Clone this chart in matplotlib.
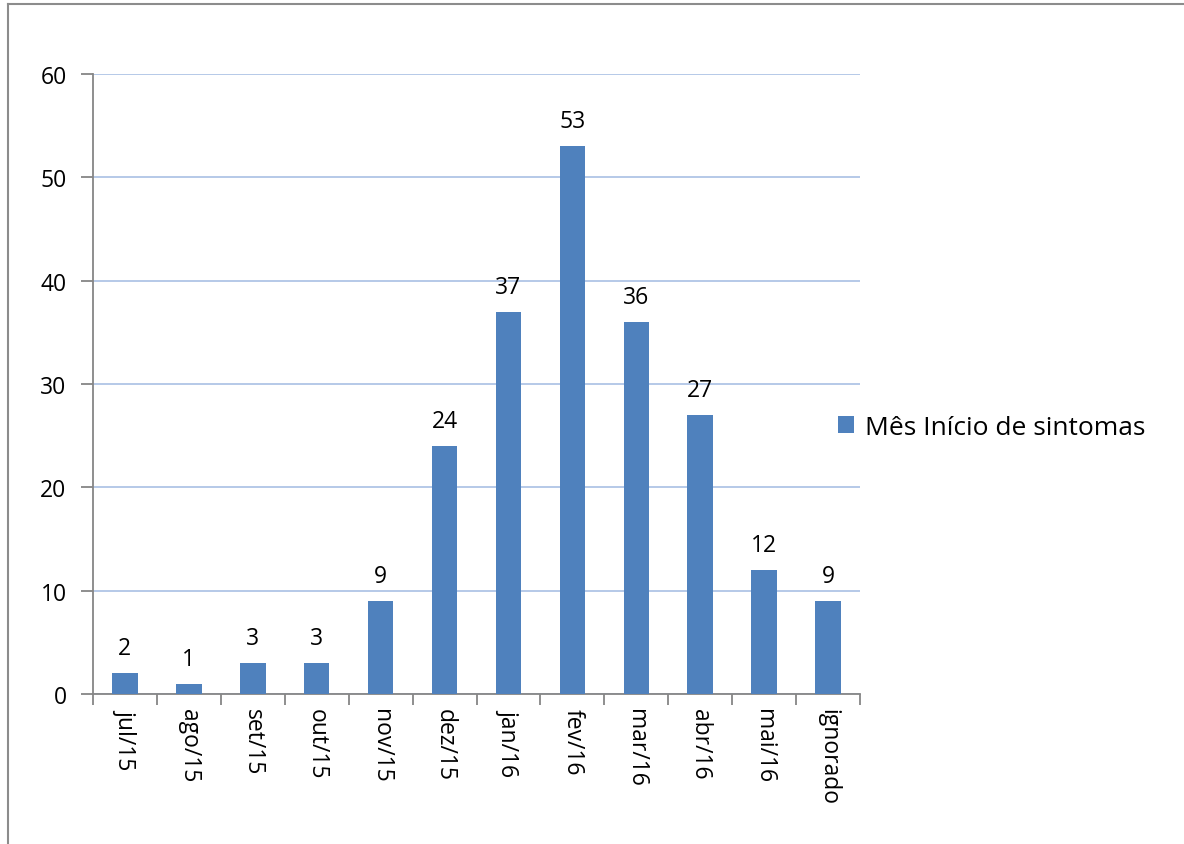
import matplotlib.pyplot as plt
from matplotlib.lines import Line2D

plt.rcParams['font.family'] = ['Open Sans', 'DejaVu Sans']

months = ['jul/15', 'ago/15', 'set/15', 'out/15', 'nov/15', 'dez/15',
          'jan/16', 'fev/16', 'mar/16', 'abr/16', 'mai/16', 'ignorado']
cases = [2, 1, 3, 3, 9, 24, 37, 53, 36, 27, 12, 9]
series_name = 'Mês Início de sintomas'
yticks = [0, 10, 20, 30, 40, 50, 60]

bar_color = '#4F81BD'
axis_gray = '#868686'
fs = 16.5

fig = plt.figure(figsize=(11.84, 8.45), dpi=100)
ax = fig.add_axes([0.0785, 0.1775, 0.6479, 0.7337])

x = list(range(len(months)))
bars = ax.bar(x, cases, width=0.4, color=bar_color, label=series_name, zorder=3)

# value labels above bars
for xi, v in zip(x, cases):
    ax.text(xi, v + 1.25, str(v), ha='center', va='bottom', fontsize=fs)

ax.set_xlim(-0.5, len(months) - 0.5)
ax.set_ylim(0, 60)
ax.set_yticks(yticks)
ax.tick_params(axis='y', labelsize=fs, length=9, color=axis_gray, width=1.3, pad=10)
ax.yaxis.grid(True, color='#A9C0E4', linewidth=1.2, zorder=0)

# category ticks sit between bars
ax.set_xticks([i - 0.5 for i in x] + [len(months) - 0.5])
ax.set_xticklabels([])
ax.set_xticks(x, minor=True)
ax.set_xticklabels(months, minor=True, rotation=-90, fontsize=fs, va='top')
ax.tick_params(axis='x', which='major', length=8, color=axis_gray, width=1.3)
ax.tick_params(axis='x', which='minor', length=0, pad=10)

for side in ['top', 'right']:
    ax.spines[side].set_visible(False)
for side in ['left', 'bottom']:
    ax.spines[side].set_color(axis_gray)
    ax.spines[side].set_linewidth(1.3)

fig.legend(handles=[bars], loc='center left', bbox_to_anchor=(0.688, 0.493),
           frameon=False, fontsize=19, handlelength=0.6, handleheight=0.6,
           handletextpad=0.4)

# outer chart border (left and top edges)
fig.add_artist(Line2D([0.0065, 0.0065], [0, 0.9935], color='#8C8C8C', lw=1.5))
fig.add_artist(Line2D([0.0065, 1.0], [0.9935, 0.9935], color='#8C8C8C', lw=1.5))

plt.savefig('out.png', dpi=100)
